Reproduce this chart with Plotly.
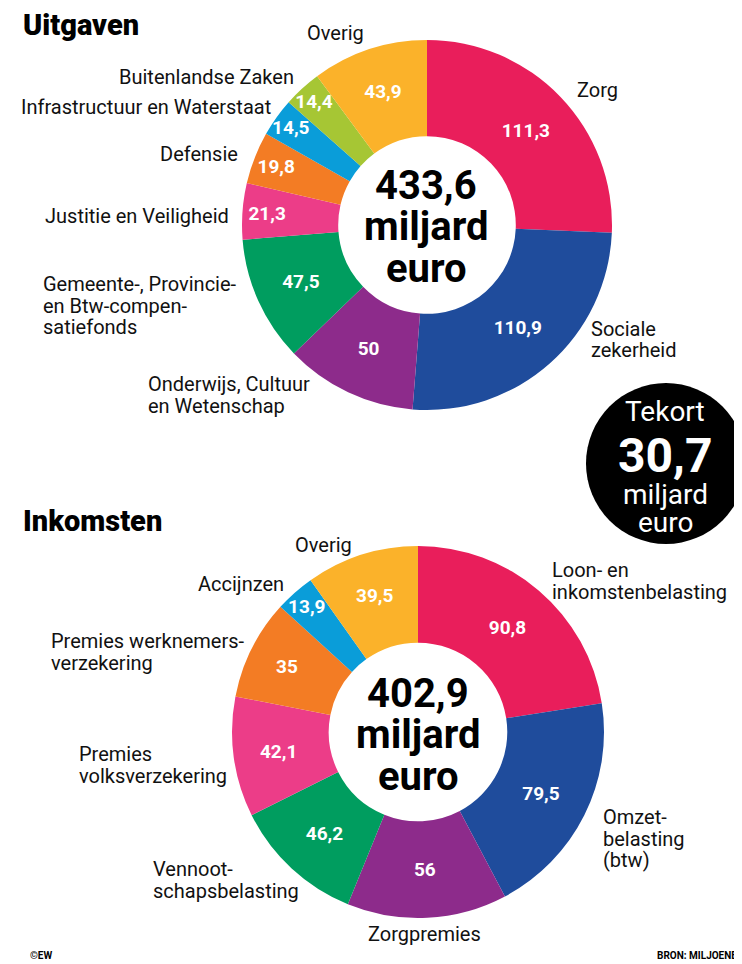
import plotly.graph_objects as go

# the page adds an 8px body margin, so the figure is drawn 8px smaller
OFF = 8
W, H = 742 - OFF, 964 - OFF

# ---------------- data ----------------
uit_labels = ["Zorg", "Sociale zekerheid", "Onderwijs, Cultuur en Wetenschap",
              "Gemeente-, Provincie- en Btw-compensatiefonds", "Justitie en Veiligheid",
              "Defensie", "Infrastructuur en Waterstaat", "Buitenlandse Zaken", "Overig"]
uit_values = [111.3, 110.9, 50, 47.5, 21.3, 19.8, 14.5, 14.4, 43.9]
uit_total = "433,6"

ink_labels = ["Loon- en inkomstenbelasting", "Omzetbelasting (btw)", "Zorgpremies",
              "Vennootschapsbelasting", "Premies volksverzekering",
              "Premies werknemersverzekering", "Accijnzen", "Overig"]
ink_values = [90.8, 79.5, 56, 46.2, 42.1, 35, 13.9, 39.5]
ink_total = "402,9"

tekort = "30,7"

uit_colors = ["#e91e5b", "#1f4c9c", "#8d2b8b", "#009d5f", "#ec3d88",
              "#f37c24", "#0a9dd9", "#a6c634", "#fbb22a"]
ink_colors = ["#e91e5b", "#1f4c9c", "#8d2b8b", "#009d5f", "#ec3d88",
              "#f37c24", "#0a9dd9", "#fbb22a"]


def fmt(v):
    return f"{v:g}".replace(".", ",")


def px(x):
    return (x - OFF) / W


def py(y):
    return 1 - (y - OFF) / H


LABEL_FONT = "Liberation Sans Narrow, Roboto, sans-serif"
BOLD_FONT = "Roboto, Liberation Sans, sans-serif"

fig = go.Figure()

fig.add_trace(go.Pie(
    labels=uit_labels, values=uit_values, text=[fmt(v) for v in uit_values],
    textinfo="text", textposition="inside", insidetextorientation="horizontal",
    insidetextfont=dict(family=BOLD_FONT, size=19, color="white", weight="bold"),
    marker=dict(colors=uit_colors, line=dict(width=0)),
    sort=False, direction="clockwise", rotation=0, hole=0.48,
    domain=dict(x=[px(242), px(612)], y=[py(410), py(40)]),
    showlegend=False, hoverinfo="label+value",
))

fig.add_trace(go.Pie(
    labels=ink_labels, values=ink_values, text=[fmt(v) for v in ink_values],
    textinfo="text", textposition="inside", insidetextorientation="horizontal",
    insidetextfont=dict(family=BOLD_FONT, size=19, color="white", weight="bold"),
    marker=dict(colors=ink_colors, line=dict(width=0)),
    sort=False, direction="clockwise", rotation=0, hole=0.48,
    domain=dict(x=[px(232), px(604)], y=[py(918), py(546)]),
    showlegend=False, hoverinfo="label+value",
))

ann = []


def text(lines, x, y, anchor="left", size=20, color="#111", family=LABEL_FONT,
         weight="normal", spacing=21.5):
    for i, ln in enumerate(lines):
        ann.append(dict(text=ln, x=px(x), y=py(y + i * spacing), xref="paper", yref="paper",
                        xanchor=anchor, yanchor="middle", showarrow=False,
                        font=dict(family=family, size=size, color=color, weight=weight)))


# titles
text(["Uitgaven"], 21, 25, size=29, family=BOLD_FONT, weight=900, color="#000")
text(["Inkomsten"], 21, 521, size=29, family=BOLD_FONT, weight=900, color="#000")

# centre totals
text([uit_total, "miljard", "euro"], 426, 185, anchor="center", size=40,
     family=BOLD_FONT, weight="bold", color="#000", spacing=41.5)
text([ink_total, "miljard", "euro"], 418, 693, anchor="center", size=40,
     family=BOLD_FONT, weight="bold", color="#000", spacing=41.5)

# uitgaven labels
text(["Overig"], 335, 33, anchor="center")
text(["Buitenlandse Zaken"], 296, 77, anchor="right")
text(["Infrastructuur en Waterstaat"], 273, 107, anchor="right")
text(["Defensie"], 240, 154, anchor="right")
text(["Justitie en Veiligheid"], 231, 216, anchor="right")
text(["Gemeente-, Provincie-", "en Btw-compen-", "satiefonds"], 41, 284)
text(["Onderwijs, Cultuur", "en Wetenschap"], 146, 384)
text(["Zorg"], 575, 90)
text(["Sociale", "zekerheid"], 589, 329)

# inkomsten labels
text(["Overig"], 323, 545, anchor="center")
text(["Accijnzen"], 286, 584, anchor="right")
text(["Premies werknemers-", "verzekering"], 49, 641)
text(["Premies", "volksverzekering"], 77, 754)
text(["Vennoot-", "schapsbelasting"], 151, 869)
text(["Zorgpremies"], 424, 934, anchor="center")
text(["Loon- en", "inkomstenbelasting"], 550, 570)
text(["Omzet-", "belasting", "(btw)"], 601, 817)

# tekort bubble
text(["Tekort"], 665, 412, anchor="center", size=28, color="white")
text([tekort], 665, 455, anchor="center", size=48, color="white",
     family=BOLD_FONT, weight="bold")
text(["miljard", "euro"], 665, 494, anchor="center", size=28, color="white", spacing=28.5)

# footer
text(["©EW"], 28, 955, size=10, family=BOLD_FONT, weight="bold", color="#000")
text(["BRON: MILJOENENNOTA"], 655, 955, size=10, family=BOLD_FONT, weight="bold", color="#000")

fig.update_layout(
    width=W, height=H,
    margin=dict(l=0, r=0, t=0, b=0),
    paper_bgcolor="white", plot_bgcolor="white",
    uniformtext=dict(minsize=19, mode="show"),
    annotations=ann,
    shapes=[dict(type="circle", xref="paper", yref="paper",
                 x0=px(586), x1=px(746), y0=py(544), y1=py(383),
                 fillcolor="black", line=dict(width=0), layer="below")],
)

fig.write_html("out.html")
